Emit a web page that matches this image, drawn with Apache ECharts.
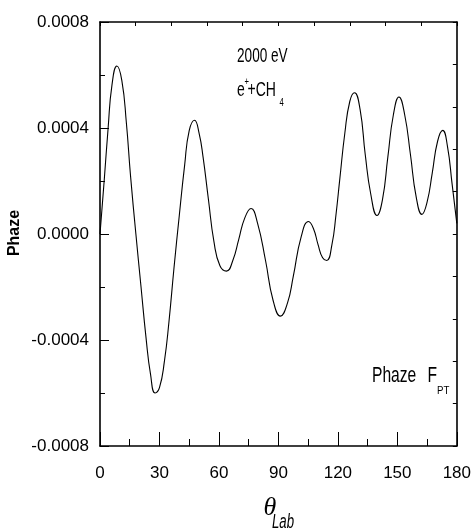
<!DOCTYPE html>
<html>
<head>
<meta charset="utf-8">
<script src="https://cdn.jsdelivr.net/npm/echarts@6/dist/echarts.min.js"></script>
<style>html,body{margin:0;padding:0;background:#fff;}#c{width:474px;height:532px;}</style>
</head>
<body>
<div id="c"></div>
<script>
// Scattering angle (deg) and phase values
var angles = [0, 2.1, 4.1, 6, 8.5, 11, 13.3, 15.4, 18.1, 20.7, 23.2, 25.5, 27.8, 30, 32.5, 34.8, 37.3, 40, 42.7, 45, 47.7, 50, 52, 54.7, 57.5, 60.5, 63.8, 67, 70, 73, 76.2, 79.5, 83.5, 87.3, 91, 94.6, 97.5, 101.5, 105.2, 107.7, 110, 112.3, 114.4, 117, 119, 121, 123.5, 126, 128.4, 131.2, 133.8, 136.6, 139.7, 142.5, 145.2, 148, 150.8, 153.7, 156.6, 159.5, 162.4, 165, 167.6, 170.3, 172.9, 175.3, 177.6, 180];
var phaze = [0, 0.0002, 0.0004, 0.00056, 0.000634, 0.00058, 0.00042, 0.00022, 0, -0.0002, -0.00039, -0.00053, -0.0006, -0.00058, -0.00048, -0.00033, -0.00013, 0.00007, 0.00026, 0.00039, 0.000429, 0.00038, 0.00029, 0.00013, -0.00003, -0.00012, -0.00014, -0.0001, -0.00002, 0.00006, 0.000096, 0.00004, -0.0001, -0.00025, -0.00031, -0.00026, -0.00016, -0.00001, 0.000047, 0.00002, -0.00004, -0.00009, -0.0001, -0.00004, 0.00007, 0.00021, 0.00038, 0.0005, 0.000533, 0.00047, 0.0003, 0.00015, 0.00007, 0.00013, 0.00029, 0.00045, 0.000517, 0.00045, 0.0003, 0.00014, 0.000074, 0.00012, 0.00023, 0.00035, 0.000391, 0.00033, 0.00019, 0.00004];
var xTicks = [0, 30, 60, 90, 120, 150, 180];
var yTicks = [-0.0008, -0.0004, 0, 0.0004, 0.0008];

var SANS = "'Liberation Sans', Arial, sans-serif";
var chart = echarts.init(document.getElementById('c'), null, {renderer: 'canvas'});
var pts = angles.map(function (a, i) { return [a, phaze[i]]; });
var axisLine = {show: true, onZero: false, lineStyle: {color: '#000', width: 1.6}};
function txt(x, y, text, font, sx) {
  return {type: 'text', x: x, y: y, scaleX: sx || 1,
    style: {text: text, font: font, fill: '#000', textAlign: 'left', textVerticalAlign: 'middle'}};
}
chart.setOption({
  animation: false,
  backgroundColor: '#fff',
  grid: {left: 100, right: 12, top: 22, bottom: 86, containLabel: false},
  xAxis: [{
    type: 'value', position: 'bottom', min: xTicks[0], max: xTicks[xTicks.length - 1], interval: 30,
    axisLine: axisLine,
    axisTick: {show: true, inside: true, length: 14, lineStyle: {color: '#000', width: 1}},
    minorTick: {show: true, splitNumber: 2, length: 7, lineStyle: {color: '#000', width: 1}},
    splitLine: {show: false},
    axisLabel: {margin: 19, color: '#000', fontSize: 17, fontFamily: SANS}
  }, {
    type: 'value', position: 'top', min: 0, max: 180, interval: 18,
    axisLine: axisLine,
    axisTick: {show: true, inside: true, length: 4, lineStyle: {color: '#000', width: 1}},
    splitLine: {show: false}, axisLabel: {show: false}
  }],
  yAxis: [{
    type: 'value', position: 'left', min: yTicks[0], max: yTicks[yTicks.length - 1], interval: 0.0004,
    axisLine: axisLine,
    axisTick: {show: true, inside: true, length: 9, lineStyle: {color: '#000', width: 1}},
    minorTick: {show: true, splitNumber: 2, length: 5, lineStyle: {color: '#000', width: 1}},
    splitLine: {show: false},
    axisLabel: {margin: 11, color: '#000', fontSize: 17, fontFamily: SANS,
      formatter: function (v) { return v.toFixed(4); }}
  }, {
    type: 'value', position: 'right', min: -0.0008, max: 0.0008, interval: 0.00016,
    axisLine: axisLine,
    axisTick: {show: true, inside: true, length: 4, lineStyle: {color: '#000', width: 1}},
    splitLine: {show: false}, axisLabel: {show: false}
  }],
  series: [{
    type: 'line', xAxisIndex: 0, yAxisIndex: 0, data: pts,
    smooth: 0.5, showSymbol: false,
    lineStyle: {color: '#000', width: 1.1}
  }],
  graphic: [
    {type: 'text', x: 15, y: 233, rotation: Math.PI / 2,
      style: {text: 'Phaze', font: "bold 16px " + SANS, fill: '#000', textAlign: 'center', textVerticalAlign: 'middle'}},
    {type: 'text', x: 270, y: 508,
      style: {text: 'θ', font: "italic 26px 'Liberation Serif', 'DejaVu Serif', serif", fill: '#000', textAlign: 'center', textVerticalAlign: 'middle'}},
    txt(272, 522, 'Lab', "italic 20px " + SANS, 0.66),
    txt(237, 56, '2000 eV', "20px " + SANS, 0.68),
    txt(237, 90, 'e', "20px " + SANS, 0.7),
    txt(244.5, 82, '+', "11px " + SANS, 0.7),
    txt(247.5, 90, '+CH', "20px " + SANS, 0.7),
    txt(279.5, 103, '4', "11px " + SANS, 0.7),
    txt(372, 376, 'Phaze', "22px " + SANS, 0.71),
    txt(427.5, 376, 'F', "22px " + SANS, 0.71),
    txt(437, 391, 'PT', "11px " + SANS, 0.88)
  ]
});
</script>
</body>
</html>
